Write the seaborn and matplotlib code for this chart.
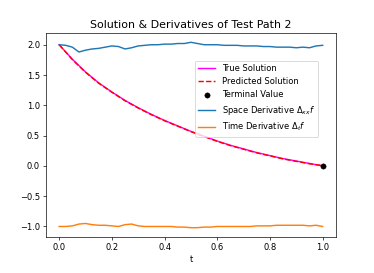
import numpy as np
import pandas as pd
import matplotlib
matplotlib.use("Agg")
import matplotlib.pyplot as plt
import seaborn as sns

# time grid for the solution curves
t_sol = [0.00, 0.05, 0.10, 0.15, 0.20, 0.25, 0.30, 0.35, 0.40, 0.45, 0.50,
         0.55, 0.60, 0.65, 0.70, 0.75, 0.80, 0.85, 0.90, 0.95, 1.00]
true_solution = [2.00, 1.76, 1.55, 1.37, 1.22, 1.08, 0.96, 0.85, 0.75, 0.66, 0.57,
                 0.49, 0.41, 0.34, 0.28, 0.22, 0.17, 0.12, 0.08, 0.04, 0.00]
predicted_solution = [2.00, 1.755, 1.545, 1.365, 1.215, 1.075, 0.955, 0.845, 0.745, 0.655, 0.565,
                      0.485, 0.405, 0.335, 0.275, 0.215, 0.165, 0.115, 0.075, 0.035, 0.005]

terminal_t = [1.0]
terminal_value = [0.0]

# time grid for the derivatives
t_der = [0.000, 0.025, 0.050, 0.075, 0.100, 0.125, 0.150, 0.175, 0.200, 0.225,
         0.250, 0.275, 0.300, 0.325, 0.350, 0.375, 0.400, 0.425, 0.450, 0.475,
         0.500, 0.525, 0.550, 0.575, 0.600, 0.625, 0.650, 0.675, 0.700, 0.725,
         0.750, 0.775, 0.800, 0.825, 0.850, 0.875, 0.900, 0.925, 0.950, 0.975, 1.000]
space_derivative = [2.00, 1.99, 1.96, 1.88, 1.91, 1.93, 1.94, 1.96, 1.98, 1.97,
                    1.93, 1.95, 1.98, 1.99, 2.00, 2.00, 2.01, 2.01, 2.02, 2.02,
                    2.04, 2.02, 2.00, 2.00, 2.00, 1.99, 1.99, 1.99, 1.98, 1.98,
                    1.98, 1.97, 1.97, 1.96, 1.96, 1.96, 1.95, 1.96, 1.95, 1.98, 1.99]
time_derivative = [-1.00, -1.00, -0.99, -0.96, -0.95, -0.97, -0.98, -0.98, -0.99, -1.00,
                   -0.97, -0.96, -0.99, -1.00, -1.00, -1.00, -1.00, -1.00, -1.01, -1.01,
                   -1.02, -1.02, -1.01, -1.01, -1.00, -1.00, -1.00, -1.00, -1.00, -1.00,
                   -0.99, -0.99, -0.99, -0.98, -0.98, -0.98, -0.98, -0.98, -0.99, -0.98, -1.00]

dpi = 60.7
fig, ax = plt.subplots(figsize=(374 / dpi, 273 / dpi), dpi=dpi)
fig.subplots_adjust(left=0.123, right=0.898, top=0.879, bottom=0.132)

sns.lineplot(x=t_sol, y=true_solution, color="magenta", label="True Solution",
             estimator=None, sort=False, ax=ax, linewidth=1.7)
sns.lineplot(x=t_sol, y=predicted_solution, color="red", linestyle="--",
             label="Predicted Solution", estimator=None, sort=False, ax=ax, linewidth=1.7)
sns.scatterplot(x=terminal_t, y=terminal_value, color="black", s=40, edgecolor="black",
                label="Terminal Value", ax=ax, zorder=5)
sns.lineplot(x=t_der, y=space_derivative, color="C0", label=r"Space Derivative $\Delta_{xx}f$",
             estimator=None, sort=False, ax=ax, linewidth=1.7)
sns.lineplot(x=t_der, y=time_derivative, color="C1", label=r"Time Derivative $\Delta_t f$",
             estimator=None, sort=False, ax=ax, linewidth=1.7)

ax.set_title("Solution & Derivatives of Test Path 2", fontsize=13)
ax.set_xlabel("t")
ax.set_xticks([0.0, 0.2, 0.4, 0.6, 0.8, 1.0])
ax.set_yticks([-1.0, -0.5, 0.0, 0.5, 1.0, 1.5, 2.0])
ax.legend(loc="upper right", bbox_to_anchor=(0.94, 0.865), borderaxespad=0)

fig.savefig("out.png", dpi=dpi)
